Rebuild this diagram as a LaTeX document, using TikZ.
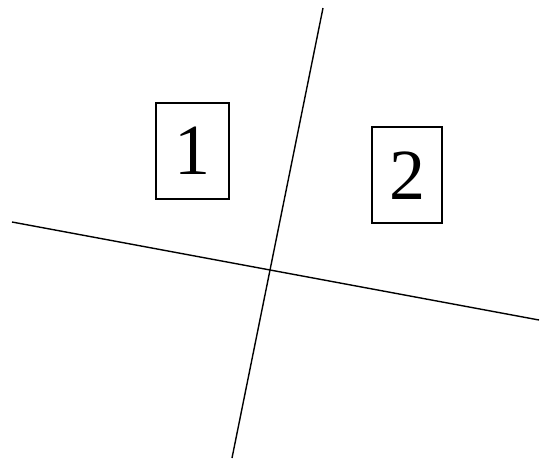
\documentclass[tikz,border=0pt]{standalone}
\usepackage{fontspec}
\setmainfont{Liberation Serif}
\begin{document}
\begin{tikzpicture}[x=1pt,y=-1pt,
  numbox/.style={draw, line width=1.3pt, minimum width=73pt, minimum height=96pt, inner sep=0pt, font=\fontsize{72}{72}\selectfont},
  axisline/.style={line width=1.4pt}]
\useasboundingbox (0,0) rectangle (549,464);
\coordinate (a1) at (323,8);
\coordinate (a2) at (232,458);
\coordinate (b1) at (12,222);
\coordinate (b2) at (539,320);
\draw[axisline] (a1) -- (a2);
\draw[axisline] (b1) -- (b2);
\node[numbox] (n1) at (192.5,151) {1};
\node[numbox, minimum width=70pt, text height=48pt, text depth=-2pt] (n2) at (407,175) {2};
\end{tikzpicture}
\end{document}
